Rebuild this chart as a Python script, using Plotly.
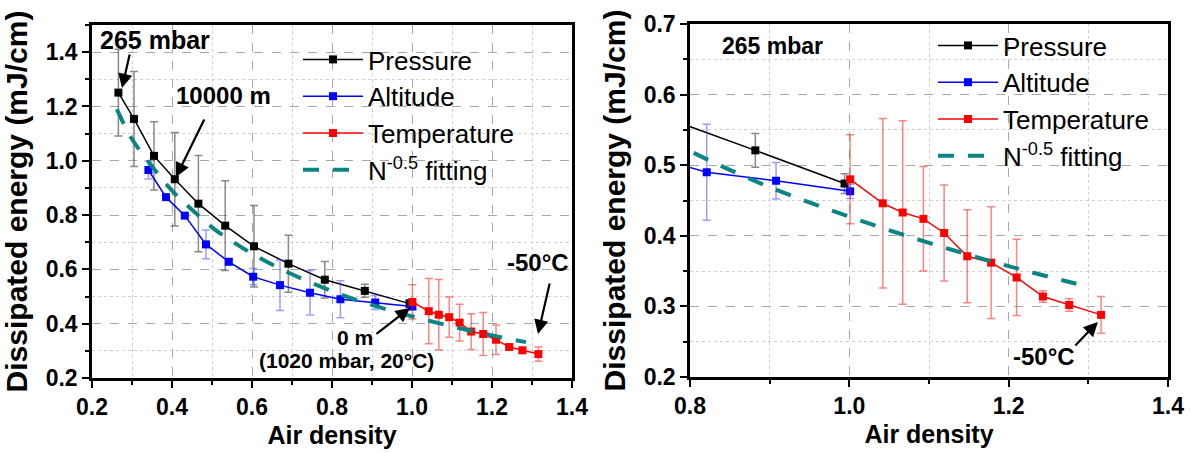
import plotly.graph_objects as go

# ---------------- data ----------------
pressure_x = [0.266, 0.305, 0.355, 0.407, 0.466, 0.533, 0.605, 0.691, 0.782, 0.882, 0.994]
pressure_y = [1.251, 1.154, 1.018, 0.932, 0.842, 0.761, 0.685, 0.621, 0.562, 0.521, 0.474]
pressure_err = [0.16, 0.175, 0.126, 0.172, 0.177, 0.165, 0.15, 0.105, 0.067, 0.024, 0.014]

altitude_x = [0.341, 0.385, 0.432, 0.485, 0.542, 0.603, 0.670, 0.745, 0.821, 0.908, 1.001]
altitude_y = [0.966, 0.866, 0.798, 0.692, 0.628, 0.573, 0.542, 0.514, 0.490, 0.478, 0.463]
altitude_err = [0.033, 0.01, 0.01, 0.053, 0.01, 0.03, 0.093, 0.082, 0.068, 0.026, 0.01]

temp_x = [1.001, 1.042, 1.067, 1.093, 1.119, 1.148, 1.178, 1.210, 1.243, 1.276, 1.316]
temp_y = [0.480, 0.446, 0.433, 0.424, 0.404, 0.371, 0.362, 0.341, 0.314, 0.302, 0.288]
temp_err = [0.063, 0.12, 0.13, 0.074, 0.068, 0.066, 0.079, 0.054, 0.008, 0.009, 0.026]

fit_x = [0.262, 0.30, 0.35, 0.40, 0.45, 0.50, 0.60, 0.70, 0.80, 0.90, 1.00, 1.10, 1.20, 1.285]
fit_y = [1.19, 1.08, 0.98, 0.89, 0.82, 0.755, 0.658, 0.582, 0.52, 0.469, 0.427, 0.39, 0.357, 0.332]

names = ["Pressure", "Altitude", "Temperature", "N<sup>-0.5</sup> fitting"]

FONT = "Liberation Sans, Arial, sans-serif"
W, H = 1195, 453

fig = go.Figure()

series = [
    (pressure_x, pressure_y, pressure_err, "black", "rgba(60,60,60,0.6)"),
    (altitude_x, altitude_y, altitude_err, "blue", "rgba(60,60,255,0.5)"),
    (temp_x, temp_y, temp_err, "red", "rgba(255,30,30,0.55)"),
]

for sub, (xa, ya, lg) in enumerate([("x", "y", "legend"), ("x2", "y2", "legend2")]):
    for i, (sx, sy, se, col, ecol) in enumerate(series):
        fig.add_trace(go.Scatter(
            x=sx, y=sy, mode="lines+markers", name=names[i],
            xaxis=xa, yaxis=ya, legend=lg,
            line=dict(color=col, width=1.5),
            marker=dict(symbol="square", size=8, color=col),
            error_y=dict(type="data", array=se, visible=True, color=ecol,
                         thickness=1.5, width=4),
        ))
    fig.add_trace(go.Scatter(
        x=fit_x, y=fit_y, mode="lines", name=names[3],
        xaxis=xa, yaxis=ya, legend=lg,
        line=dict(color="#0a8582", width=4, dash="16px,14px", shape="spline"),
    ))

def axis_common():
    return dict(
        showline=True, linecolor="black", linewidth=2.5, mirror=True,
        ticks="outside", ticklen=7, tickwidth=2, tickcolor="black",
        showgrid=True, gridcolor="#a8a8a8", gridwidth=1, griddash="dash",
        zeroline=False, tickformat=".1f",
        tickfont=dict(family=FONT, size=23, color="black", weight="bold"),
        automargin=False,
    )

def minor(d):
    return dict(dtick=d, ticks="outside", ticklen=4, tickwidth=1.5,
                tickcolor="black", showgrid=True, gridcolor="#d0d0d0",
                griddash="dot", gridwidth=1)

xl = axis_common()
xl.update(domain=[92 / W, 572 / W], range=[0.2, 1.4], tick0=0.2, dtick=0.2,
          minor=minor(0.1),
          title=dict(text="Air density", standoff=8,
                     font=dict(family=FONT, size=25, color="black", weight="bold")),
          anchor="y")
yl = axis_common()
yl.update(domain=[75 / H, 428 / H], range=[0.2, 1.5], tick0=0.2, dtick=0.2,
          minor=minor(0.1),
          title=dict(text="Dissipated energy (mJ/cm)", standoff=10,
                     font=dict(family=FONT, size=30, color="black", weight="bold")),
          anchor="x")
xr = axis_common()
xr.update(domain=[690 / W, 1168 / W], range=[0.8, 1.4], tick0=0.8, dtick=0.2,
          minor=minor(0.1),
          title=dict(text="Air density", standoff=8,
                     font=dict(family=FONT, size=25, color="black", weight="bold")),
          anchor="y2")
yr = axis_common()
yr.update(domain=[76 / H, 429 / H], range=[0.2, 0.7], tick0=0.2, dtick=0.1,
          minor=minor(0.05),
          title=dict(text="Dissipated energy (mJ/cm)", standoff=10,
                     font=dict(family=FONT, size=30, color="black", weight="bold")),
          anchor="x2")

legend_common = dict(
    xanchor="left", yanchor="top", bgcolor="rgba(0,0,0,0)", borderwidth=0,
    font=dict(family=FONT, size=26, color="black"), itemwidth=60,
    tracegroupgap=0,
)

fig.update_layout(
    width=W, height=H, margin=dict(l=0, r=0, t=0, b=0),
    paper_bgcolor="white", plot_bgcolor="white",
    xaxis=xl, yaxis=yl, xaxis2=xr, yaxis2=yr,
    legend=dict(x=298 / W, y=1 - 36 / H, **legend_common),
    legend2=dict(x=933 / W, y=1 - 22 / H, **legend_common),
    font=dict(family=FONT, color="black"),
)

def label(text, x, y, xref, yref, size):
    fig.add_annotation(text="<b>%s</b>" % text, x=x, y=y, xref=xref, yref=yref,
                       showarrow=False, font=dict(family=FONT, size=size, color="black"))

def arrow(x, y, ax, ay, xref, yref):
    fig.add_annotation(text="", x=x, y=y, ax=ax, ay=ay, xref=xref, yref=yref,
                       showarrow=True, arrowhead=2, arrowsize=1.3, arrowwidth=2.2,
                       arrowcolor="black")

# left panel
label("265 mbar", 0.3575, 1.445, "x", "y", 25)
arrow(0.275, 1.268, 8, -35, "x", "y")
label("10000 m", 0.5275, 1.239, "x", "y", 24)
arrow(0.41, 0.940, 29, -59, "x", "y")
label("0 m", 0.8575, 0.351, "x", "y", 21)
arrow(0.995, 0.458, -35, 27, "x", "y")
label("(1020 mbar, 20°C)", 0.835, 0.263, "x", "y", 21)
label("-50°C", 1.315, 0.627, "x", "y", 24)
arrow(1.315, 0.362, 12, -52, "x", "y")
# right panel
label("265 mbar", 0.903, 0.669, "x2", "y2", 23)
label("-50°C", 1.244, 0.2297, "x2", "y2", 24)
arrow(1.312, 0.278, -24, 25, "x2", "y2")

fig.write_html("out.html")
